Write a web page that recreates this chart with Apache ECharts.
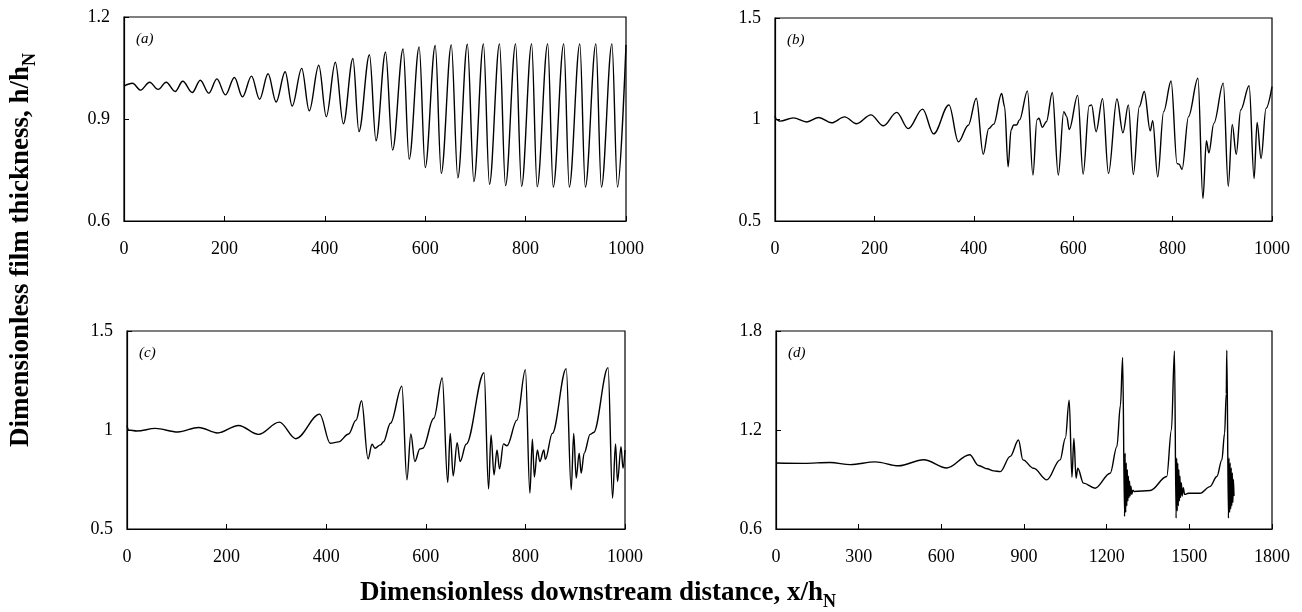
<!DOCTYPE html>
<html>
<head>
<meta charset="utf-8">
<script src="https://cdn.jsdelivr.net/npm/echarts@6/dist/echarts.min.js"></script>
<style>
html,body{margin:0;padding:0;background:#fff;}
#chart{width:1302px;height:612px;}
</style>
</head>
<body>
<div id="chart"></div>
<script>
// ---- data (x = x/hN, y = h/hN) ----
const panelA = [[0,0.997],[17,1.005],[33,0.985],[51,1.008],[68,0.987],[84,1.008],[102,0.981],[117,1.011],[136,0.978],[152,1.014],[169,0.976],[185,1.018],[202,0.971],[220,1.022],[236,0.965],[254,1.026],[270,0.958],[287,1.033],[303,0.95],[321,1.039],[335,0.938],[354,1.049],[369,0.924],[388,1.058],[403,0.907],[421,1.067],[437,0.886],[456,1.078],[468,0.863],[489,1.089],[502,0.836],[521,1.097],[535,0.809],[556,1.106],[568,0.782],[588,1.112],[600,0.757],[620,1.116],[632,0.74],[652,1.118],[665,0.727],[684,1.12],[697,0.716],[716,1.121],[728,0.708],[748,1.121],[760,0.704],[780,1.121],[792,0.702],[812,1.121],[823,0.701],[844,1.121],[855,0.70],[876,1.121],[887,0.70],[908,1.121],[919,0.70],[940,1.121],[951,0.70],[972,1.121],[983,0.70],[1000,1.118]];

const panelB = [[0,1.017],[3,1.0],[10,0.992],[37,1.008],[64,0.988],[88,1.01],[114,0.984],[140,1.013],[164,0.979],[193,1.023],[218,0.969],[245,1.035],[268,0.955],[297,1.051],[319,0.929],[350,1.072],[369,0.89],[389,0.972],[405,1.105],[419,0.829],[430,0.955],[440,0.977],[456,1.128],[462,1.063],[469,0.767],[475,0.948],[480,0.973],[486,0.973],[492,0.998],[508,1.141],[519,0.726],[527,0.998],[531,1.006],[538,0.961],[546,0.989],[558,1.133],[570,0.726],[581,1.039],[587,1.014],[592,0.951],[609,1.119],[620,0.731],[632,1.067],[637,1.072],[646,0.94],[659,1.103],[671,0.734],[688,1.101],[700,0.935],[711,1.072],[721,0.729],[733,1.063],[743,1.138],[755,0.944],[760,0.994],[770,0.717],[782,1.039],[797,1.19],[809,0.783],[813,0.78],[819,0.754],[832,1.014],[851,1.203],[861,0.61],[868,0.895],[873,0.836],[883,0.981],[902,1.179],[912,0.671],[920,0.976],[928,0.828],[937,1.047],[954,1.166],[964,0.709],[970,0.986],[978,0.808],[988,1.055],[1000,1.162]];

const panelC = [[0,1.022],[3,1.0],[20,0.995],[57,1.008],[102,0.99],[144,1.013],[182,0.985],[224,1.023],[264,0.978],[306,1.04],[339,0.956],[387,1.08],[408,0.933],[425,0.94],[445,0.98],[460,1.05],[471,1.148],[484,0.854],[492,0.928],[498,0.908],[509,0.925],[515,0.941],[529,1.034],[552,1.221],[562,0.748],[570,0.98],[578,0.841],[588,0.904],[594,0.908],[616,1.059],[633,1.263],[644,0.735],[649,0.983],[655,0.768],[663,0.936],[669,0.841],[681,0.928],[717,1.289],[726,0.703],[731,0.975],[737,0.773],[743,0.899],[748,0.804],[756,0.93],[763,0.92],[783,1.05],[800,1.305],[809,0.681],[814,0.953],[818,0.762],[824,0.899],[829,0.841],[837,0.899],[840,0.852],[854,0.983],[882,1.31],[892,0.698],[897,0.983],[902,0.757],[908,0.883],[912,0.782],[918,0.883],[930,0.978],[937,0.987],[966,1.315],[975,0.656],[981,0.93],[985,0.74],[992,0.916],[996,0.807],[1000,0.899]];

const panelD = [[0,1.0],[100,0.998],[197,1.003],[270,0.99],[360,1.007],[445,0.983],[536,1.02],[620,0.97],[703,1.05],[735,0.985],[766,0.965],[790,0.952],[814,0.948],[850,1.04],[880,1.139],[896,1.019],[935,0.968],[983,0.898],[1031,1.019],[1050,1.15],[1064,1.381],[1074,0.914],[1081,1.149],[1089,0.908],[1095,0.968],[1116,0.878],[1158,0.847],[1213,0.938],[1237,1.099],[1250,1.35],[1258,1.639],[1265,0.676],[1267,1.06],[1269,0.7],[1271,1.0],[1273,0.74],[1275,0.96],[1277,0.77],[1279,0.92],[1281,0.79],[1283,0.89],[1285,0.8],[1288,0.86],[1291,0.81],[1295,0.835],[1300,0.827],[1358,0.833],[1418,0.918],[1435,1.2],[1446,1.679],[1452,0.666],[1454,1.03],[1456,0.71],[1458,1.0],[1460,0.74],[1462,0.96],[1464,0.77],[1466,0.92],[1468,0.79],[1471,0.88],[1474,0.8],[1478,0.85],[1483,0.81],[1497,0.817],[1539,0.817],[1575,0.857],[1600,0.918],[1618,1.019],[1628,1.18],[1634,1.42],[1636,1.683],[1642,0.666],[1644,1.03],[1646,0.7],[1648,1.0],[1650,0.72],[1652,0.97],[1654,0.74],[1656,0.94],[1658,0.76],[1660,0.9],[1662,0.8]];

const xTicksABC = {min:0, max:1000, interval:200};
const xTicksD = {min:0, max:1800, interval:300};
const yTicksA = {min:0.6, max:1.2, interval:0.3};
const yTicksB = {min:0.5, max:1.5, interval:0.5};
const yTicksC = {min:0.5, max:1.5, interval:0.5};
const yTicksD = {min:0.6, max:1.8, interval:0.6};
const panelNames = ['(a)','(b)','(c)','(d)'];
const yTitle = 'Dimensionless film thickness, h/h';
const xTitle = 'Dimensionless downstream distance, x/h';
const subN = 'N';

// ---- layout ----
const FONT = '"Liberation Serif","Times New Roman",serif';
const grids = [
  {left:124, top:17, width:502, height:204},
  {left:775, top:18, width:497, height:203},
  {left:127, top:331, width:498, height:198},
  {left:776, top:331, width:496, height:198}
];
const xs = [xTicksABC, xTicksABC, xTicksABC, xTicksD];
const ys = [yTicksA, yTicksB, yTicksC, yTicksD];
const datas = [panelA, panelB, panelC, panelD];

const chart = echarts.init(document.getElementById('chart'), null, {renderer:'canvas'});
const titleRich = {
  b:{font:'bold 27px ' + FONT, fill:'#000'},
  s:{font:'bold 18px ' + FONT, fill:'#000', padding:[18,0,0,0]}
};
const option = {
  animation:false,
  backgroundColor:'#fff',
  grid: grids.map(g => Object.assign({show:true, borderColor:'#000', borderWidth:1.2, backgroundColor:'transparent'}, g)),
  xAxis: xs.map((t,i) => ({
    type:'value', gridIndex:i, min:t.min, max:t.max, interval:t.interval,
    axisLine:{show:true, lineStyle:{color:'#000', width:1.2}},
    axisTick:{show:true, inside:true, length:5, lineStyle:{color:'#000'}},
    splitLine:{show:false},
    axisLabel:{color:'#000', fontFamily:FONT, fontSize:18, margin:19,
      formatter: v => String(Math.round(v))}
  })),
  yAxis: ys.map((t,i) => ({
    type:'value', gridIndex:i, min:t.min, max:t.max, interval:t.interval,
    axisLine:{show:true, lineStyle:{color:'#000', width:1.2}},
    axisTick:{show:true, inside:true, length:5, lineStyle:{color:'#000'}},
    splitLine:{show:false},
    axisLabel:{color:'#000', fontFamily:FONT, fontSize:18, margin:14,
      formatter: v => String(Math.round(v*10)/10)}
  })),
  series: datas.map((d,i) => ({
    type:'line', xAxisIndex:i, yAxisIndex:i, data:d,
    showSymbol:false, smooth:0.35, smoothMonotone:'x',
    lineStyle:{color:'#000', width:1.4}
  })),
  graphic: [
    ...panelNames.map((n,i) => ({
      type:'text', left: grids[i].left + 12, top: grids[i].top + 15,
      style:{text:n, font:'italic 15px ' + FONT, fill:'#000'}
    })),
    {type:'text', x:21, y:250, rotation:Math.PI/2,
      style:{text:'{b|' + yTitle + '}{s|' + subN + '}', align:'center', verticalAlign:'middle', rich:titleRich}},
    {type:'text', x:598, y:593,
      style:{text:'{b|' + xTitle + '}{s|' + subN + '}', align:'center', verticalAlign:'middle', rich:titleRich}}
  ]
};
chart.setOption(option);
</script>
</body>
</html>
